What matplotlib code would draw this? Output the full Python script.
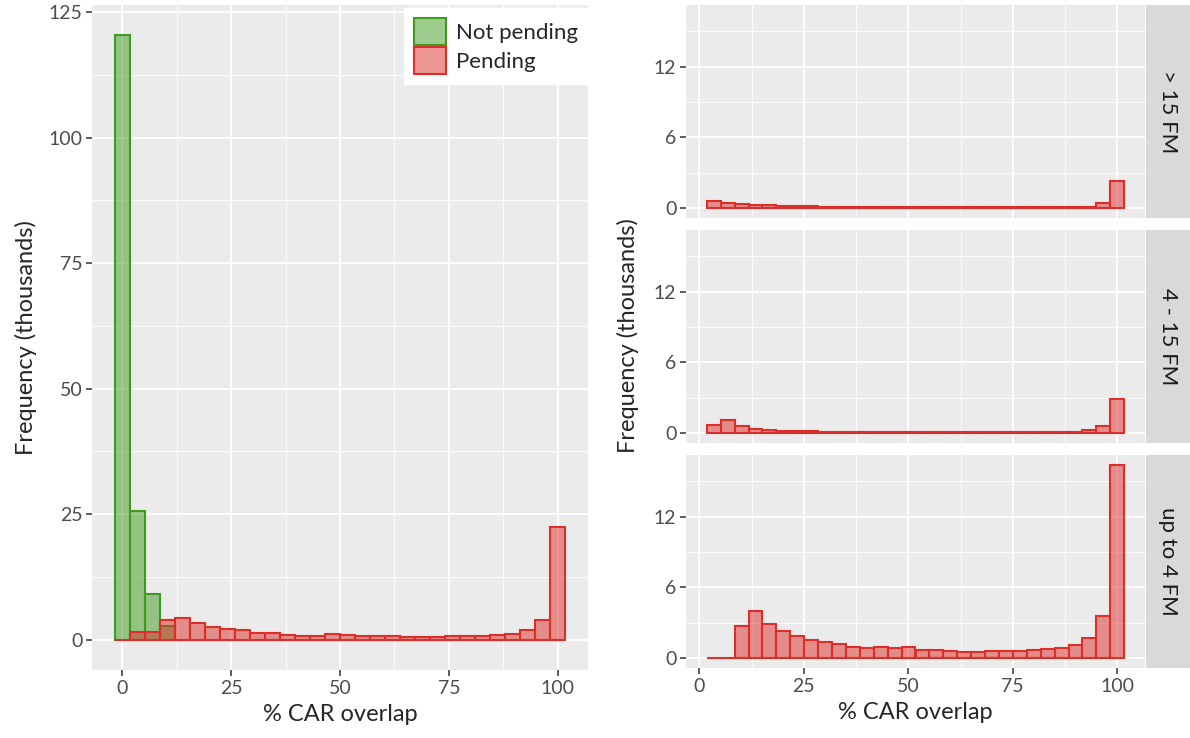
import numpy as np
import matplotlib
matplotlib.use("Agg")
import matplotlib.pyplot as plt
from matplotlib.colors import to_rgba
from matplotlib.patches import Patch

plt.rcParams['font.family'] = ['Lato', 'DejaVu Sans']

# ---- data (thousands), 30 histogram bins each ----
# left panel: all records, bins centred from 0 to 100
left_lo, left_hi = 0.0, 100.0
not_pending = [120.4, 25.6, 9.2, 2.7, 0, 0, 0, 0, 0, 0,
               0, 0, 0, 0, 0, 0, 0, 0, 0, 0,
               0, 0, 0, 0, 0, 0, 0, 0, 0, 0]
pending = [0, 1.5, 1.5, 3.9, 4.3, 3.3, 2.5, 2.1, 1.9, 1.3,
           1.3, 1.0, 0.8, 0.8, 1.1, 1.0, 0.8, 0.8, 0.8, 0.5,
           0.5, 0.5, 0.7, 0.7, 0.8, 0.9, 1.2, 1.9, 4.0, 22.4]

# right panels: pending only, faceted by FM group
right_lo, right_hi = 3.45, 100.0
facet_names = ["> 15 FM", "4 - 15 FM", "up to 4 FM"]
fm_over15 = [0.6, 0.49, 0.34, 0.29, 0.29, 0.2, 0.2, 0.2, 0.1, 0.1,
             0.1, 0.1, 0.1, 0.1, 0.1, 0.1, 0.1, 0.1, 0.1, 0.1,
             0.1, 0.1, 0.07, 0.1, 0.1, 0.1, 0.1, 0.1, 0.49, 2.29]
fm_4to15 = [0.71, 1.09, 0.63, 0.34, 0.29, 0.23, 0.2, 0.2, 0.1, 0.1,
            0.1, 0.1, 0.1, 0.1, 0.15, 0.1, 0.1, 0.1, 0.1, 0.1,
            0.1, 0.1, 0.1, 0.1, 0.1, 0.1, 0.15, 0.29, 0.66, 2.91]
fm_upto4 = [0, 0, 2.7, 3.97, 2.94, 2.29, 1.86, 1.57, 1.34, 1.2,
            0.97, 0.86, 0.97, 0.86, 0.97, 0.71, 0.71, 0.66, 0.57, 0.57,
            0.63, 0.63, 0.63, 0.71, 0.77, 0.86, 1.14, 1.69, 3.57, 16.4]

GREEN = "#3F9B1F"
RED = "#DC2F2A"
BG = "#EBEBEB"
STRIP = "#D9D9D9"
TICK_C = "#4D4D4D"
TITLE_C = "#262626"

W, H = 1190, 738
fig = plt.figure(figsize=(W / 100, H / 100), dpi=100)


def px_axes(x0, y0, x1, y1, **kw):
    return fig.add_axes([x0 / W, 1 - y1 / H, (x1 - x0) / W, (y1 - y0) / H], **kw)


def style(ax, xmaj, xmin, ymaj, ymin):
    ax.set_facecolor(BG)
    for s in ax.spines.values():
        s.set_visible(False)
    ax.set_xticks(xmaj)
    ax.set_xticks(xmin, minor=True)
    ax.set_yticks(ymaj)
    ax.set_yticks(ymin, minor=True)
    ax.grid(True, which="major", color="white", linewidth=1.3)
    ax.grid(True, which="minor", color="white", linewidth=0.6)
    ax.set_axisbelow(True)
    ax.tick_params(which="major", length=4, width=1.1, color="#333333",
                   labelsize=14, labelcolor=TICK_C, pad=3)
    ax.tick_params(which="minor", length=0)


def draw_hist(ax, lo, hi, vals, col):
    n = len(vals)
    centers = np.linspace(lo, hi, n)
    w = (hi - lo) / (n - 1)
    ax.bar(centers, vals, width=w, facecolor=to_rgba(col, 0.5),
           edgecolor=col, linewidth=1.5, zorder=2)
    return centers[0] - w / 2, centers[-1] + w / 2


# ---- left panel ----
axL = px_axes(92, 5, 588, 670)
e0, e1 = draw_hist(axL, left_lo, left_hi, not_pending, GREEN)
draw_hist(axL, left_lo, left_hi, pending, RED)
pad = 0.05 * (e1 - e0)
axL.set_xlim(e0 - pad, e1 + pad)
ymax = max(max(not_pending), max(pending))
axL.set_ylim(-0.05 * ymax, 1.05 * ymax)
style(axL, [0, 25, 50, 75, 100], [12.5, 37.5, 62.5, 87.5],
      [0, 25, 50, 75, 100, 125], [12.5, 37.5, 62.5, 87.5, 112.5])
axL.set_xlabel("% CAR overlap", fontsize=17, color=TITLE_C, labelpad=5)
axL.set_ylabel("Frequency (thousands)", fontsize=17, color=TITLE_C, labelpad=8)

handles = [Patch(facecolor=to_rgba(GREEN, 0.5), edgecolor=GREEN, linewidth=1.5),
           Patch(facecolor=to_rgba(RED, 0.5), edgecolor=RED, linewidth=1.5)]
leg = axL.legend(handles, ["Not pending", "Pending"], loc="upper right",
                 bbox_to_anchor=(1.0, 0.995), fontsize=16, frameon=True,
                 fancybox=False, framealpha=1, edgecolor="white",
                 handlelength=1.45, handleheight=1.45, handletextpad=0.45,
                 labelspacing=0.12, borderpad=0.45, borderaxespad=0.0)
for t in leg.get_texts():
    t.set_color(TITLE_C)

# ---- right facets ----
panels = [(5, 218), (230, 443), (455, 668)]
facets = [fm_over15, fm_4to15, fm_upto4]
rmax = max(max(v) for v in facets)
axes_r = []
for (top, bot), name, vals in zip(panels, facet_names, facets):
    ax = px_axes(686, top, 1145, bot)
    e0, e1 = draw_hist(ax, right_lo, right_hi, vals, RED)
    pad = 0.05 * (e1 - e0)
    ax.set_xlim(e0 - pad, e1 + pad)
    ax.set_ylim(-0.05 * rmax, 1.05 * rmax)
    style(ax, [0, 25, 50, 75, 100], [12.5, 37.5, 62.5, 87.5],
          [0, 6, 12], [3, 9, 15])
    if bot != panels[-1][1]:
        ax.tick_params(axis="x", which="both", length=0, labelbottom=False)
    sx = px_axes(1146, top, 1190, bot)
    sx.set_facecolor(STRIP)
    sx.set_xticks([])
    sx.set_yticks([])
    for s in sx.spines.values():
        s.set_visible(False)
    sx.text(0.5, 0.5, name, rotation=270, ha="center", va="center",
            fontsize=16, color="#1A1A1A", transform=sx.transAxes)
    axes_r.append(ax)

axes_r[-1].set_xlabel("% CAR overlap", fontsize=17, color=TITLE_C, labelpad=5)
fig.text(628 / W, 1 - 336 / H, "Frequency (thousands)", rotation=90,
         ha="center", va="center", fontsize=17, color=TITLE_C)

fig.savefig("out.png", dpi=100, facecolor="white")
